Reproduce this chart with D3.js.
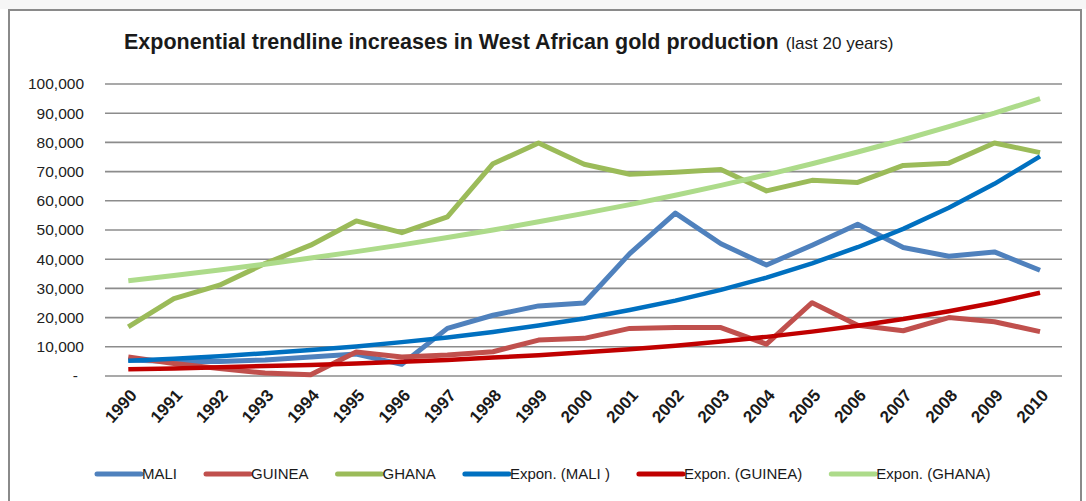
<!DOCTYPE html>
<html>
<head>
<meta charset="utf-8">
<script src="https://cdn.jsdelivr.net/npm/d3@7"></script>
<style>
  html, body { margin: 0; padding: 0; background: #ffffff; }
  svg { display: block; }
  text { font-family: "Liberation Sans", Arial, sans-serif; }
</style>
</head>
<body>
<svg id="chart" width="1086" height="501"></svg>
<script>
// ---------- data ----------
const years = ["1990","1991","1992","1993","1994","1995","1996","1997","1998","1999","2000",
               "2001","2002","2003","2004","2005","2006","2007","2008","2009","2010"];
const mali   = [5500, 5000, 5000, 5500, 6500, 7500, 4000, 16300, 20800, 24000, 25000,
                41900, 55800, 45300, 38000, 44800, 52000, 44000, 41000, 42500, 36200];
const guinea = [6500, 4300, 2600, 1000, 400, 8200, 6500, 7200, 8300, 12300, 12900,
                16300, 16600, 16600, 10900, 25100, 17400, 15500, 20000, 18600, 15200];
const ghana  = [16800, 26500, 31100, 38500, 44800, 53100, 49100, 54500, 72700, 79800, 72500,
                69100, 69800, 70700, 63400, 67000, 66300, 72100, 72900, 79800, 76500];
const exponMali   = [5200, 5900, 6800, 7800, 8900, 10100, 11600, 13200, 15100, 17300, 19700,
                     22600, 25800, 29500, 33700, 38600, 44100, 50400, 57600, 65800, 75200];
const exponGuinea = [2300, 2600, 3000, 3400, 3800, 4300, 4900, 5500, 6300, 7100, 8100,
                     9200, 10400, 11800, 13400, 15200, 17200, 19500, 22200, 25100, 28500];
const exponGhana  = [32600, 34400, 36300, 38300, 40400, 42600, 44900, 47400, 50000, 52800, 55700,
                     58700, 61900, 65300, 68900, 72700, 76700, 80900, 85400, 90000, 95000];
const yTicks = [0, 10000, 20000, 30000, 40000, 50000, 60000, 70000, 80000, 90000, 100000];
const seriesNames = ["MALI", "GUINEA", "GHANA", "Expon. (MALI )", "Expon. (GUINEA)", "Expon. (GHANA)"];
const titleMain = "Exponential trendline increases in West African gold production";
const titleSub = "(last 20 years)";

// ---------- styles ----------
const colors = ["#4f81bd", "#c0504d", "#9bbb59", "#0070c0", "#c00000", "#addb8a"];
const widths = [5, 5, 5, 4.5, 4.5, 5];

const svg = d3.select("#chart");

// frame
svg.append("rect").attr("x", 0).attr("y", 0).attr("width", 1086).attr("height", 9).attr("fill", "#f6f6f6");
svg.append("rect")
  .attr("x", 9).attr("y", 10).attr("width", 1072).attr("height", 500)
  .attr("fill", "#ffffff").attr("stroke", "#8a8a8a").attr("stroke-width", 2);

const x = d3.scaleBand().domain(years).range([105.5, 1062.8]);
const y = d3.scaleLinear().domain([0, 100000]).range([376, 84]);
const cx = d => x(d) + x.bandwidth() / 2;

// gridlines
svg.append("g").selectAll("line").data(yTicks).join("line")
  .attr("x1", 105).attr("x2", 1062)
  .attr("y1", d => y(d)).attr("y2", d => y(d))
  .attr("stroke", "#8c8c8c").attr("stroke-width", 1.6);

// y labels
const fmt = d3.format(",");
svg.append("g").selectAll("text").data(yTicks).join("text")
  .attr("x", d => d === 0 ? 78 : 84)
  .attr("y", d => y(d))
  .attr("dy", "0.35em")
  .attr("text-anchor", "end")
  .attr("font-size", 15.5)
  .attr("fill", "#222222")
  .text(d => d === 0 ? "-" : fmt(d));

// x labels
svg.append("g").selectAll("text").data(years).join("text")
  .attr("transform", d => `translate(${cx(d) + 5},${392}) rotate(-48)`)
  .attr("text-anchor", "end")
  .attr("dy", "0.35em")
  .attr("font-size", 17)
  .attr("font-weight", "bold")
  .attr("fill", "#1a1a1a")
  .text(d => d);

// lines
const allSeries = [mali, guinea, ghana, exponMali, exponGuinea, exponGhana];
const line = d3.line().x((d, i) => cx(years[i])).y(d => y(d));
const lg = svg.append("g");
allSeries.forEach((s, k) => {
  lg.append("path").datum(s)
    .attr("d", line)
    .attr("fill", "none")
    .attr("stroke", colors[k])
    .attr("stroke-width", widths[k])
    .attr("stroke-linejoin", "round");
});

// title
const t = svg.append("text").attr("x", 124).attr("y", 49).attr("fill", "#1a1a1a");
t.append("tspan").attr("font-size", 21.5).attr("font-weight", "bold").text(titleMain);
t.append("tspan").attr("font-size", 17).attr("dx", 7).text(titleSub);

// legend
const leg = svg.append("g");
let lx = 97;
seriesNames.forEach((name, k) => {
  leg.append("line")
    .attr("x1", lx).attr("x2", lx + 44).attr("y1", 474).attr("y2", 474)
    .attr("stroke", colors[k]).attr("stroke-width", 5).attr("stroke-linecap", "round");
  const tx = leg.append("text")
    .attr("x", lx + 45).attr("y", 474).attr("dy", "0.35em")
    .attr("font-size", 15).attr("fill", "#1a1a1a").text(name);
  lx += 45 + tx.node().getComputedTextLength() + 29;
});
</script>
</body>
</html>
